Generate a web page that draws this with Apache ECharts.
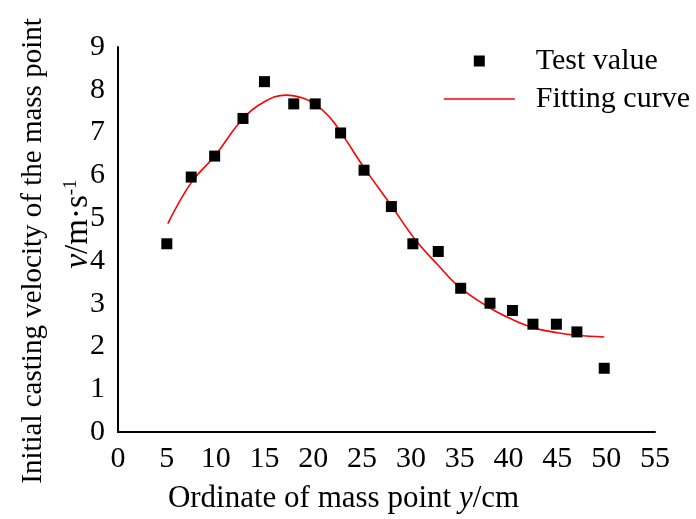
<!DOCTYPE html>
<html>
<head>
<meta charset="utf-8">
<script src="https://cdn.jsdelivr.net/npm/echarts@6/dist/echarts.min.js"></script>
<style>
  html, body { margin: 0; padding: 0; background: #fff; }
  #chart { width: 696px; height: 519px; }
</style>
</head>
<body>
<div id="chart"></div>
<script>
// measured test points
const testX = [5, 7.5, 9.9, 12.8, 15, 18, 20.2, 22.8, 25.2, 28, 30.2, 32.8, 35.1, 38.1, 40.4, 42.5, 44.9, 47, 49.8];
const testV = [4.40, 5.96, 6.45, 7.33, 8.19, 7.67, 7.67, 6.99, 6.12, 5.27, 4.40, 4.22, 3.36, 3.01, 2.84, 2.52, 2.52, 2.34, 1.49];
// points
const fitX = [5.1, 7.5, 9.9, 12.8, 15, 17.2, 19, 20.2, 21.6, 22.9, 25.2, 28, 30.5, 32.7, 35, 38.1, 40.3, 42.5, 45, 47, 49.8];
const fitV = [4.87, 5.83, 6.45, 7.33, 7.72, 7.875, 7.80, 7.66, 7.38, 6.98, 6.18, 5.29, 4.48, 3.92, 3.38, 2.90, 2.64, 2.44, 2.32, 2.26, 2.22];

const serif = '"Liberation Serif", "DejaVu Serif", serif';

function initChart() {
    let myChart = echarts.init(document.getElementById('chart'));
    let option = {
        animation: false,
        backgroundColor: '#fff',
        textStyle: { fontFamily: serif, color: '#000' },
        grid: { left: 118, right: 41, top: 47, bottom: 85.5 },
        legend: {
            orient: 'vertical',
            left: 443,
            top: 46,
            padding: 0,
            itemWidth: 71,
            itemHeight: 11,
            itemGap: 8,
            textStyle: { fontFamily: serif, fontSize: 30, color: '#000', lineHeight: 30, padding: [0, 0, 0, 16] },
            data: [
                { name: 'Test value', icon: 'path://M0,0L1,0L1,1L0,1Z' },
                { name: 'Fitting curve', itemStyle: { opacity: 0 }, lineStyle: { color: '#ff0000', width: 1.6, opacity: 1 } }
            ]
        },
        xAxis: {
            type: 'value',
            min: 0,
            max: 55,
            interval: 5,
            splitLine: { show: false },
            axisTick: { show: false },
            axisLine: { lineStyle: { color: '#000', width: 2 } },
            axisLabel: { fontFamily: serif, fontSize: 30, color: '#000', margin: 12 },
            name: 'Ordinate of mass point {i|y}/cm',
            nameLocation: 'middle',
            nameGap: 51,
            nameTextStyle: {
                fontFamily: serif, fontSize: 31, color: '#000',
                padding: [0, 86, 0, 0],
                rich: { i: { fontFamily: serif, fontSize: 31, fontStyle: 'italic', color: '#000' } }
            }
        },
        yAxis: {
            type: 'value',
            min: 0,
            max: 9,
            interval: 1,
            splitLine: { show: false },
            axisTick: { show: false },
            axisLine: { lineStyle: { color: '#000', width: 2 } },
            axisLabel: { fontFamily: serif, fontSize: 30, color: '#000', margin: 13 }
        },
        graphic: [
            {
                type: 'text',
                x: 33,
                y: 251,
                rotation: Math.PI / 2,
                style: {
                    text: 'Initial casting velocity of the mass point',
                    font: '29px ' + serif,
                    fill: '#000',
                    align: 'center',
                    verticalAlign: 'middle'
                }
            },
            {
                type: 'text',
                x: 78,
                y: 224,
                rotation: Math.PI / 2,
                style: {
                    text: '{i|v}/m·s{sup|-1}',
                    font: '33px ' + serif,
                    fill: '#000',
                    align: 'center',
                    verticalAlign: 'middle',
                    rich: {
                        i: { font: 'italic 33px ' + serif, fill: '#000' },
                        sup: { font: '19px ' + serif, fill: '#000', verticalAlign: 'top' }
                    }
                }
            }
        ],
        series: [
            {
                name: 'Test value',
                type: 'scatter',
                symbol: 'rect',
                symbolSize: 11,
                itemStyle: { color: '#000', opacity: 1 },
                data: testX.map((x, i) => [x, testV[i]]),
                z: 3
            },
            {
                name: 'Fitting curve',
                type: 'line',
                smooth: 0.4,
                symbol: 'none',
                lineStyle: { color: '#ff0000', width: 1.6 },
                itemStyle: { color: '#ff0000' },
                data: fitX.map((x, i) => [x, fitV[i]]),
                z: 2
            }
        ]
    };
    myChart.setOption(option);
    return myChart;
}

initChart();
</script>
</body>
</html>
